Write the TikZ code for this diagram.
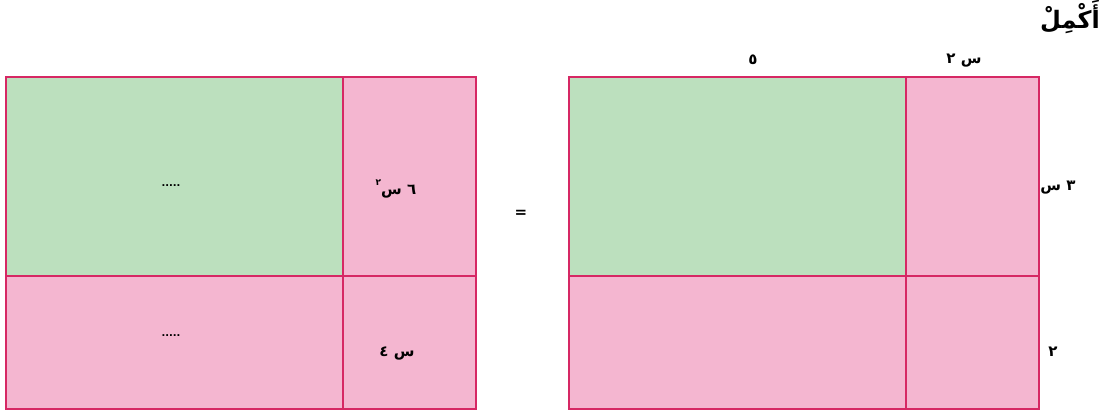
\documentclass[tikz,border=0pt]{standalone}
\usepackage{fontspec}
\newfontfamily\arabicfont[Script=Arabic]{DejaVu Sans}
\TeXXeTstate=1
\definecolor{tilegreen}{RGB}{188,224,190}
\definecolor{tilepink}{RGB}{244,182,208}
\definecolor{tileedge}{RGB}{214,40,100}
\usetikzlibrary{calc}

\begin{document}
\begin{tikzpicture}[x=1pt,y=-1pt,
	tile/.style={draw=tileedge,line width=1.6pt},
	lbl/.style={font=\arabicfont\bfseries\fontsize{15}{17}\selectfont,inner sep=0pt}]

\def\w{470}
\def\v{337}
\def\ty{77}
\def\my{276}
\def\by{409}

\useasboundingbox (0,0) rectangle (1116,411);

\begin{scope}[xshift=6pt]
\fill[tilegreen] (0,\ty) rectangle (\v,\my);
\fill[tilepink] (\v,\ty) rectangle (\w,\by);
\fill[tilepink] (0,\my) rectangle (\v,\by);
\draw[tile] (0,\ty) rectangle (\w,\by);
\draw[tile] (\v,\ty) -- (\v,\by);
\draw[tile] (0,\my) -- (\w,\my);
\end{scope}

\begin{scope}[xshift=569pt]
\fill[tilegreen] (0,\ty) rectangle (\v,\my);
\fill[tilepink] (\v,\ty) rectangle (\w,\by);
\fill[tilepink] (0,\my) rectangle (\v,\by);
\draw[tile] (0,\ty) rectangle (\w,\by);
\draw[tile] (\v,\ty) -- (\v,\by);
\draw[tile] (0,\my) -- (\w,\my);
\end{scope}

\node[lbl,font=\arabicfont\bfseries\fontsize{24}{28}\selectfont] (title) at (1070,17) {\beginR أَكْمِلْ\endR};

\node[lbl] (top5) at (753,60) {\beginR ٥\endR};
\node[lbl] (top2x) at (964,61) {\beginR س ٢\endR};
\node[lbl] (side3x) at (1058,188) {\beginR ٣ س\endR};
\node[lbl] (side2) at (1053,352) {\beginR ٢\endR};

\node[lbl] (sqterm) at (396,189) {\beginR ٦ س\raisebox{1.1ex}{\fontsize{9}{10}\selectfont ٢}\endR};
\node[lbl] (linterm) at (397,353) {\beginR س ٤\endR};

\node[font=\arabicfont\bfseries\fontsize{10}{12}\selectfont] (dotsa) at (171,186) {.....};
\node[font=\arabicfont\bfseries\fontsize{10}{12}\selectfont] (dotsb) at (171,336) {.....};

\node[font=\arabicfont\bfseries\fontsize{15}{18}\selectfont] (eq) at (521,214) {=};

\end{tikzpicture}
\end{document}
